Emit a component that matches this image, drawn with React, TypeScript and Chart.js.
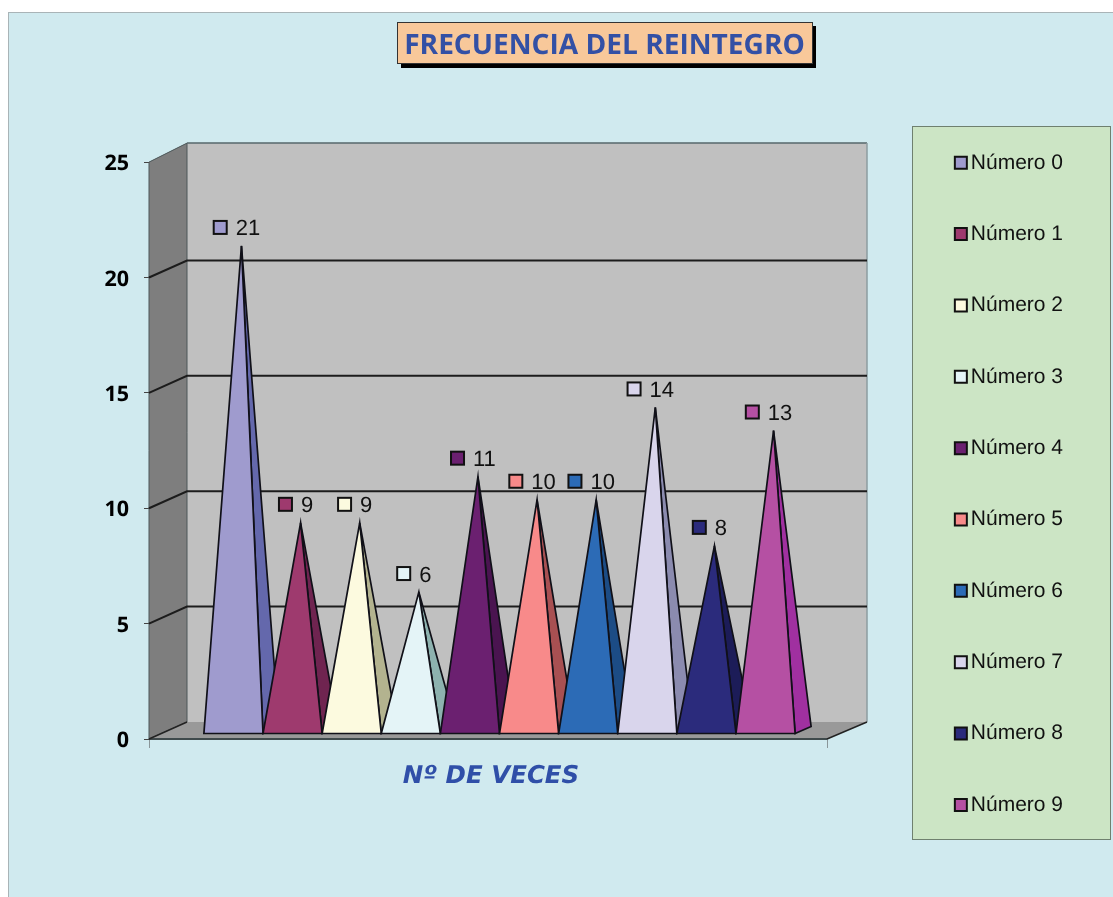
import React, { useEffect, useRef } from "react";
import { Chart, registerables } from "chart.js";

Chart.register(...registerables);

const CATEGORIES = ["Nº DE VECES"];
const TITLE = "FRECUENCIA DEL REINTEGRO";
const SERIES_NAMES = ["Número 0", "Número 1", "Número 2", "Número 3", "Número 4", "Número 5", "Número 6", "Número 7", "Número 8", "Número 9"];
const SERIES_VALUES = [21, 9, 9, 6, 11, 10, 10, 14, 8, 13];
const FRONT_COLORS = ["#9F9BCE", "#9E3A6E", "#FCFADF", "#E4F4F7", "#6B2070", "#F88A8A", "#2C6BB6", "#D9D5EC", "#2B2B7C", "#B550A3"];
const SIDE_COLORS = ["#6468AC", "#6F2450", "#B3B38F", "#8DB2AF", "#4A1450", "#A85052", "#1C4C85", "#8B8BAF", "#1C1C58", "#A030A0"];

const DEPTH_X = 38;
const DEPTH_Y = 17;
const WALL_EXTRA = 2;

const scenePlugin = {
  id: "scene",
  afterLayout(chart: any) {
    const lg = chart.legend;
    lg.left = 904.5;
    lg.right = 1063;
    lg.top = 101.9;
    lg.bottom = 897;
    const t = chart.titleBlock;
    t.left = 397;
    t.right = 812;
    t.top = 29.5;
    t.bottom = 63;
  },
  beforeDraw(chart: any) {
    const { ctx } = chart;
    ctx.textRendering = "geometricPrecision";
    ctx.save();
    ctx.fillStyle = "#ffffff";
    ctx.fillRect(0, 0, 1113, 897);
    ctx.fillStyle = "#D0EAEF";
    ctx.fillRect(9, 12, 1104, 885);
    ctx.fillStyle = "#A9B4B7";
    ctx.fillRect(8, 12, 1105, 1);
    ctx.fillRect(8, 12, 1, 885);
    // title box
    ctx.fillStyle = "#000";
    ctx.fillRect(401, 26, 415, 42);
    ctx.fillStyle = "#F8C89A";
    ctx.strokeStyle = "#333";
    ctx.lineWidth = 1;
    ctx.fillRect(397.5, 22.5, 415, 41);
    ctx.strokeRect(397.5, 22.5, 415, 41);
    // legend box
    ctx.fillStyle = "#CCE5C5";
    ctx.strokeStyle = "#6F806F";
    ctx.fillRect(912.5, 126.5, 198, 713);
    ctx.strokeRect(912.5, 126.5, 198, 713);
    ctx.restore();
  },
  beforeDatasetsDraw(chart: any) {
    const { ctx, scales } = chart;
    const y = scales.y;
    const x = scales.x;
    const L = x.left, R = x.right, B = y.getPixelForValue(0), T = y.getPixelForValue(25);
    const BR = R + DEPTH_X + WALL_EXTRA;
    ctx.save();
    // back wall
    ctx.fillStyle = "#C0C0C0";
    ctx.fillRect(L + DEPTH_X, T - DEPTH_Y - 2, BR - L - DEPTH_X, B - T + 2);
    // side wall
    ctx.fillStyle = "#7E7E7E";
    ctx.beginPath();
    ctx.moveTo(L, T);
    ctx.lineTo(L + DEPTH_X, T - DEPTH_Y - 2);
    ctx.lineTo(L + DEPTH_X, B - DEPTH_Y);
    ctx.lineTo(L, B);
    ctx.closePath();
    ctx.fill();
    ctx.strokeStyle = "#4c5658";
    ctx.lineWidth = 1;
    ctx.stroke();
    // floor
    ctx.fillStyle = "#999999";
    ctx.beginPath();
    ctx.moveTo(L, B);
    ctx.lineTo(L + DEPTH_X, B - DEPTH_Y);
    ctx.lineTo(BR, B - DEPTH_Y);
    ctx.lineTo(R, B);
    ctx.closePath();
    ctx.fill();
    // wall top + right edges
    ctx.strokeStyle = "#56666a";
    ctx.lineWidth = 1.5;
    ctx.beginPath();
    ctx.moveTo(L + DEPTH_X, T - DEPTH_Y - 2);
    ctx.lineTo(BR, T - DEPTH_Y - 2);
    ctx.stroke();
    ctx.strokeStyle = "#8c9ca0";
    ctx.beginPath();
    ctx.moveTo(BR, T - DEPTH_Y - 2);
    ctx.lineTo(BR, B - DEPTH_Y);
    ctx.stroke();
    // grid lines
    ctx.strokeStyle = "#1c1c1c";
    ctx.lineWidth = 2;
    y.ticks.forEach((t: any) => {
      if (t.value === 0 || t.value === 25) return;
      const py = y.getPixelForValue(t.value);
      ctx.beginPath();
      ctx.moveTo(L, py);
      ctx.lineTo(L + DEPTH_X, py - DEPTH_Y);
      ctx.lineTo(BR, py - DEPTH_Y);
      ctx.stroke();
    });
    // floor front edges
    ctx.strokeStyle = "#3f4a4c";
    ctx.lineWidth = 2;
    ctx.beginPath();
    ctx.moveTo(L, B);
    ctx.lineTo(R, B);
    ctx.stroke();
    ctx.lineWidth = 1.5;
    ctx.strokeStyle = "#222";
    ctx.beginPath();
    ctx.moveTo(R, B);
    ctx.lineTo(BR, B - DEPTH_Y);
    ctx.moveTo(L, B);
    ctx.lineTo(L + DEPTH_X, B - DEPTH_Y);
    ctx.stroke();
    ctx.restore();
  },
  beforeDatasetDraw() {
    return false;
  },
  afterDatasetsDraw(chart: any) {
    const { ctx } = chart;
    ctx.save();
    ctx.lineJoin = "miter";
    SERIES_VALUES.forEach((value, i) => {
      const el = chart.getDatasetMeta(i).data[0].getProps(["x", "y", "base", "width"], true);
      const x0 = el.x - el.width / 2 + 11.5;
      const x1 = el.x + el.width / 2 + 11.5;
      const yb = el.base - 5;
      const ax = (x0 + x1) / 2 + 8;
      const ay = el.y - 8.5;
      ctx.strokeStyle = "#101018";
      ctx.lineWidth = 1.7;
      ctx.fillStyle = SIDE_COLORS[i];
      ctx.beginPath();
      ctx.moveTo(x1, yb);
      ctx.lineTo(x1 + 16, yb - 7);
      ctx.lineTo(ax, ay);
      ctx.closePath();
      ctx.fill();
      ctx.stroke();
      ctx.fillStyle = FRONT_COLORS[i];
      ctx.beginPath();
      ctx.moveTo(x0, yb);
      ctx.lineTo(x1, yb);
      ctx.lineTo(ax, ay);
      ctx.closePath();
      ctx.fill();
      ctx.stroke();
    });
    // data labels: legend key + value
    ctx.font = "22px 'Liberation Sans'";
    ctx.textBaseline = "middle";
    ctx.textAlign = "left";
    SERIES_VALUES.forEach((value, i) => {
      const el = chart.getDatasetMeta(i).data[0].getProps(["x", "y", "base", "width"], true);
      const ax = el.x + 11.5 + 8;
      const ay = el.y - 8.5;
      const txt = String(value);
      const tw = ctx.measureText(txt).width;
      const total = 14 + 8 + tw;
      const left = ax - 4.5 - total / 2;
      ctx.fillStyle = FRONT_COLORS[i];
      ctx.strokeStyle = "#111";
      ctx.lineWidth = 2;
      ctx.fillRect(left, ay - 25, 13, 13);
      ctx.strokeRect(left, ay - 25, 13, 13);
      ctx.fillStyle = "#111";
      ctx.fillText(txt, left + 22, ay - 16.5);
    });
    ctx.restore();
  },
};

export default function App() {
  const ref = useRef<HTMLCanvasElement | null>(null);
  useEffect(() => {
    const chart = new Chart(ref.current as HTMLCanvasElement, {
      type: "bar",
      data: {
        labels: CATEGORIES,
        datasets: SERIES_NAMES.map((name, i) => ({
          label: name,
          data: [SERIES_VALUES[i]],
          backgroundColor: FRONT_COLORS[i],
          borderColor: "#111111",
          borderWidth: 2,
          barPercentage: 1,
          categoryPercentage: 0.872,
        })),
      },
      options: {
        animation: false,
        responsive: false,
        layout: { padding: { left: 0, right: 286, top: 128.4, bottom: 0 } },
        scales: {
          x: {
            grid: { display: true, offset: true, drawOnChartArea: false, tickLength: 9, color: "#8a9699" },
            border: { display: false },
            ticks: {
              color: "#2F4FA8",
              font: { family: "'DejaVu Sans'", size: 24.5, weight: "bold", style: "italic" },
              padding: 14,
              labelOffset: 3,
            },
            afterFit(s: any) {
              s.height = 158;
            },
          },
          y: {
            min: 0,
            max: 25,
            ticks: {
              stepSize: 5,
              color: "#000",
              padding: 15,
              labelOffset: 2,
              font: { family: "'Open Sans'", size: 21.5, weight: "bold" },
            },
            grid: { drawOnChartArea: false, tickLength: 5, color: "#444" },
            border: { display: true, color: "#444", width: 1 },
            afterFit(s: any) {
              s.width = 149;
            },
          },
        },
        plugins: {
          title: {
            display: true,
            text: TITLE,
            color: "#3350A5",
            padding: 0,
            font: { family: "'Open Sans'", size: 28.1, weight: "bold", lineHeight: 1.2 },
          },
          legend: {
            display: true,
            position: "chartArea",
            align: "start",
            labels: {
              boxWidth: 12,
              boxHeight: 12,
              padding: 50.35,
              color: "#111",
              textAlign: "right",
              font: { family: "'Liberation Sans'", size: 21 },
            },
          },
          tooltip: { enabled: false },
        },
      } as any,
      plugins: [scenePlugin as any],
    });
    return () => chart.destroy();
  }, []);
  return (
    <div style={{ position: "absolute", left: 0, top: 0, width: 1113, height: 897 }}>
      <canvas ref={ref} width={1113} height={897} />
    </div>
  );
}
